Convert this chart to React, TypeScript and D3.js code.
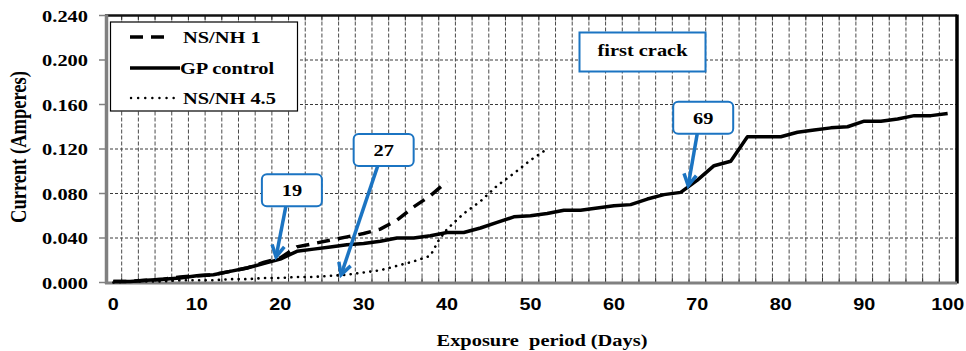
import React from 'react';
import * as d3 from 'd3';

const days = [0, 2, 4, 6, 8, 10, 12, 14, 16, 18, 20, 22, 24, 26, 28, 30, 32, 34, 36, 38, 40, 42, 44, 46, 48, 50, 52, 54, 56, 58, 60, 62, 64, 66, 68, 70, 72, 74, 76, 78, 80, 82, 84, 86, 88, 90, 92, 94, 96, 98, 100];
const gpControl = [0.001, 0.001, 0.002, 0.003, 0.004, 0.006, 0.007, 0.010, 0.013, 0.017, 0.021, 0.028, 0.030, 0.032, 0.034, 0.035, 0.037, 0.040, 0.040, 0.042, 0.045, 0.045, 0.049, 0.054, 0.059, 0.060, 0.062, 0.065, 0.065, 0.067, 0.069, 0.070, 0.075, 0.079, 0.081, 0.092, 0.105, 0.109, 0.131, 0.131, 0.131, 0.135, 0.137, 0.139, 0.140, 0.145, 0.145, 0.147, 0.150, 0.150, 0.152];

const nsnh1Days = [0, 2, 4, 6, 8, 10, 12, 14, 16, 18, 20, 22, 24, 26, 28, 30, 32, 34, 36, 38, 40];
const nsnh1 = [0.001, 0.001, 0.002, 0.003, 0.005, 0.006, 0.007, 0.010, 0.013, 0.018, 0.022, 0.032, 0.035, 0.038, 0.041, 0.044, 0.048, 0.056, 0.068, 0.078, 0.091];

const nsnh45Days = [0, 2, 4, 6, 8, 10, 12, 14, 16, 18, 20, 22, 24, 26, 28, 30, 32, 34, 36, 38, 39, 40, 42, 44, 46, 48, 50, 52];
const nsnh45 = [0.000, 0.001, 0.001, 0.001, 0.002, 0.002, 0.002, 0.003, 0.003, 0.004, 0.004, 0.005, 0.005, 0.006, 0.007, 0.009, 0.011, 0.015, 0.019, 0.024, 0.038, 0.048, 0.062, 0.073, 0.087, 0.098, 0.110, 0.120];

const xTicks = [0, 10, 20, 30, 40, 50, 60, 70, 80, 90, 100];
const yTicks = [0, 0.04, 0.08, 0.12, 0.16, 0.2, 0.24];
const xGrid = d3.range(1, 101, 2);

// callouts: arrow tip (day, value) and box centre (day, value)
const callouts = [
  { label: '19', tipDay: 19.5, tipVal: 0.023, boxDay: 21.4, boxVal: 0.083 },
  { label: '27', tipDay: 27.3, tipVal: 0.007, boxDay: 32.4, boxVal: 0.119 },
  { label: '69', tipDay: 68.9, tipVal: 0.087, boxDay: 70.7, boxVal: 0.148 },
];

const W = 966;
const H = 351;
const left = 105;
const right = 957;
const top = 15.5;
const bottom = 282.5;
const BLUE = '#1b74c2';
const SX = 1.2; // horizontal stretch of text in the reference

const serif = '"Liberation Serif", "Times New Roman", serif';
const sans = '"Liberation Sans", Arial, sans-serif';

function SText({ x, y, anchor = 'start', size = 17, family = serif, children }: any) {
  return (
    <g transform={`translate(${x},${y}) scale(${SX},1)`}>
      <text textAnchor={anchor} fontFamily={family} fontWeight="bold" fontSize={size} fill="#000">
        {children}
      </text>
    </g>
  );
}

export default function App() {
  const x = d3.scaleLinear().domain([-1, 101]).range([left, right - 1]);
  const y = d3.scaleLinear().domain([0, 0.24]).range([bottom, top]);

  const line = d3
    .line<[number, number]>()
    .x(d => x(d[0]))
    .y(d => y(d[1]));

  const gpPath = line(days.map((d, i) => [d, gpControl[i]]) as [number, number][]) as string;
  const n1Path = line(nsnh1Days.map((d, i) => [d, nsnh1[i]]) as [number, number][]) as string;
  const n45Path = line(nsnh45Days.map((d, i) => [d, nsnh45[i]]) as [number, number][]) as string;

  const boxW = 60;
  const boxH = 32;

  return (
    <svg width={W} height={H} style={{ position: 'absolute', left: 0, top: 0, background: '#fff' }}>
      <rect x={0} y={0} width={W} height={H} fill="#fff" />

      {/* grid */}
      {yTicks.slice(1, -1).map(t => (
        <line key={'hy' + t} x1={left} x2={right} y1={y(t)} y2={y(t)} stroke="#3a3a3a" strokeWidth={1} strokeDasharray="3,2" />
      ))}
      {xGrid.map(d => (
        <g key={'vx' + d}>
          <line x1={x(d)} x2={x(d)} y1={top} y2={bottom} stroke="#4a4a4a" strokeWidth={1} strokeDasharray="4,2" />
          <line x1={x(d)} x2={x(d)} y1={top} y2={top + 5} stroke="#333" strokeWidth={1} />
          <line x1={x(d)} x2={x(d)} y1={bottom - 5} y2={bottom} stroke="#333" strokeWidth={1} />
        </g>
      ))}

      {/* frame */}
      <line x1={left} x2={right} y1={top} y2={top} stroke="#111" strokeWidth={2.5} />
      <line x1={right} x2={right} y1={top - 1} y2={bottom + 1} stroke="#000" strokeWidth={3.5} />
      <line x1={left + 1.5} x2={left + 1.5} y1={top - 1} y2={bottom + 1.5} stroke="#808080" strokeWidth={3.5} />
      <line x1={left} x2={right} y1={bottom + 0.5} y2={bottom + 0.5} stroke="#808080" strokeWidth={3} />
      {yTicks.map(t => (
        <line key={'yt' + t} x1={left - 6} x2={left} y1={y(t)} y2={y(t)} stroke="#808080" strokeWidth={1.5} />
      ))}

      {/* y tick labels */}
      {yTicks.map(t => (
        <SText key={'yl' + t} x={88} y={y(t) + 6} anchor="end" size={17}>
          {t.toFixed(3)}
        </SText>
      ))}

      {/* x tick labels */}
      {xTicks.map(t => (
        <SText key={'xl' + t} x={x(t)} y={310} anchor="middle" size={16.5} family={sans}>
          {t}
        </SText>
      ))}

      {/* axis titles */}
      <g transform={`translate(26,147) scale(${SX},1) rotate(-90)`}>
        <text textAnchor="middle" fontFamily={serif} fontWeight="bold" fontSize={18.5}>
          Current (Amperes)
        </text>
      </g>
      <g transform={`translate(542,346) scale(${SX},1)`}>
        <text textAnchor="middle" fontFamily={serif} fontWeight="bold" fontSize={17} style={{ whiteSpace: 'pre' }}>
          {'Exposure  period (Days)'}
        </text>
      </g>

      {/* series */}
      <path d={n45Path} fill="none" stroke="#000" strokeWidth={2.6} strokeLinecap="round" strokeDasharray="0.1,6.5" />
      <path d={gpPath} fill="none" stroke="#000" strokeWidth={3.5} strokeLinejoin="round" />
      <path d={n1Path} fill="none" stroke="#000" strokeWidth={3.5} strokeDasharray="13,8" />

      {/* legend */}
      <rect x={110.5} y={22} width={187} height={89} fill="#fff" stroke="#000" strokeWidth={1.2} />
      <line x1={130} x2={172} y1={37} y2={37} stroke="#000" strokeWidth={3.5} strokeDasharray="13,8" />
      <SText x={183} y={43}>NS/NH 1</SText>
      <line x1={130} x2={180} y1={68} y2={68} stroke="#000" strokeWidth={3.5} />
      <SText x={180} y={74}>GP control</SText>
      <line x1={131} x2={177} y1={98} y2={98} stroke="#000" strokeWidth={2.4} strokeLinecap="round" strokeDasharray="0.1,7" />
      <SText x={183} y={104}>NS/NH 4.5</SText>

      {/* first crack box */}
      <rect x={579.5} y={32.5} width={126} height={39} fill="#fff" stroke={BLUE} strokeWidth={2} />
      <SText x={642.5} y={56} anchor="middle">first crack</SText>

      {/* callouts */}
      {callouts.map(c => {
        const bx = x(c.boxDay);
        const by = y(c.boxVal);
        const sx = bx - 6;
        const sy = by + boxH / 2;
        const tx = x(c.tipDay);
        const ty = y(c.tipVal);
        const ang = Math.atan2(ty - sy, tx - sx);
        const hl = 13;
        const spread = 0.5;
        const a1x = tx - hl * Math.cos(ang - spread);
        const a1y = ty - hl * Math.sin(ang - spread);
        const a2x = tx - hl * Math.cos(ang + spread);
        const a2y = ty - hl * Math.sin(ang + spread);
        return (
          <g key={c.label}>
            <line x1={sx} y1={sy} x2={tx} y2={ty} stroke={BLUE} strokeWidth={3.5} />
            <path d={`M${a1x},${a1y} L${tx},${ty} L${a2x},${a2y}`} fill="none" stroke={BLUE} strokeWidth={3.5} strokeLinejoin="miter" />
            <rect x={bx - boxW / 2} y={by - boxH / 2} width={boxW} height={boxH} rx={5} fill="#fff" stroke={BLUE} strokeWidth={2} />
            <SText x={bx} y={by + 6} anchor="middle">{c.label}</SText>
          </g>
        );
      })}
    </svg>
  );
}
